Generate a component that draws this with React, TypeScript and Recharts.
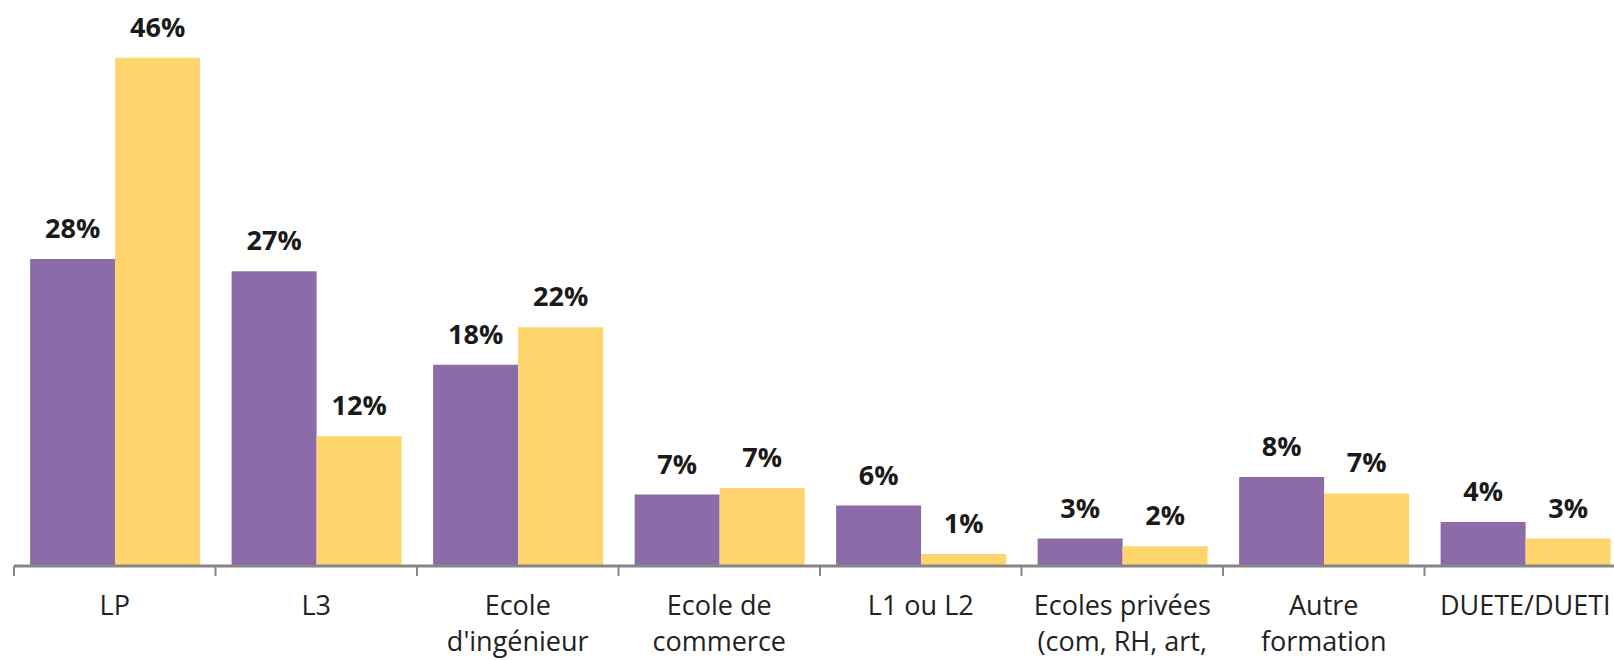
import { BarChart, Bar, XAxis, YAxis, LabelList } from 'recharts';

const categories = [
  ['LP'],
  ['L3'],
  ['Ecole', "d'ingénieur"],
  ['Ecole de', 'commerce'],
  ['L1 ou L2'],
  ['Ecoles privées', '(com, RH, art,'],
  ['Autre', 'formation'],
  ['DUETE/DUETI'],
];
const seriesA = [27.9, 26.8, 18.3, 6.5, 5.5, 2.5, 8.1, 4.0];
const seriesB = [46.2, 11.8, 21.7, 7.1, 1.1, 1.8, 6.6, 2.5];

const data = categories.map((lines, i) => ({
  name: lines.join(' '),
  lines,
  a: seriesA[i],
  b: seriesB[i],
}));

const WIDTH = 1640;
const LEFT = 14;
const RIGHT = 14;
const BAND = (WIDTH - LEFT - RIGHT) / categories.length;
const FONT = '"Open Sans", sans-serif';

function CategoryTick(props: any) {
  const { x, y, index } = props;
  const lines: string[] = data[index]?.lines ?? [];
  const axisY = y - 12;
  const left = x - BAND / 2;
  return (
    <g>
      <line x1={left} x2={left} y1={axisY} y2={axisY + 10} stroke="#868686" strokeWidth={2} />
      {index === data.length - 1 && (
        <line x1={left + BAND} x2={left + BAND} y1={axisY} y2={axisY + 10} stroke="#868686" strokeWidth={2} />
      )}
      {lines.map((l, i) => (
        <text
          key={i}
          x={x}
          y={axisY + 49 + i * 36}
          textAnchor="middle"
          fill="#222"
          style={{ fontFamily: FONT, fontSize: 27 }}
        >
          {l}
        </text>
      ))}
    </g>
  );
}

const labelStyle = { fontFamily: FONT, fontSize: 27, fontWeight: 700, fill: '#1a1a1a' };
const fmt = (v: any) => `${Math.round(Number(v))}%`;

export default function App() {
  return (
    <div
      style={{
        position: 'fixed',
        left: 0,
        top: 0,
        width: 1614,
        height: 660,
        overflow: 'hidden',
        background: '#fff',
      }}
    >
      <BarChart
        width={WIDTH}
        height={660}
        data={data}
        margin={{ top: 16, right: RIGHT, left: LEFT, bottom: 0 }}
        barCategoryGap="8%"
        barGap={0}
      >
        <YAxis hide domain={[0, 50]} />
        <XAxis
          dataKey="name"
          height={94}
          interval={0}
          axisLine={{ stroke: '#868686', strokeWidth: 3 }}
          tickLine={false}
          tickSize={10}
          tickMargin={2}
          tick={<CategoryTick />}
        />
        <Bar dataKey="a" fill="#8b6ca9" isAnimationActive={false}>
          <LabelList dataKey="a" position="top" offset={21} formatter={fmt} style={labelStyle} />
        </Bar>
        <Bar dataKey="b" fill="#fdd56c" isAnimationActive={false}>
          <LabelList dataKey="b" position="top" offset={21} formatter={fmt} style={labelStyle} />
        </Bar>
      </BarChart>
    </div>
  );
}
